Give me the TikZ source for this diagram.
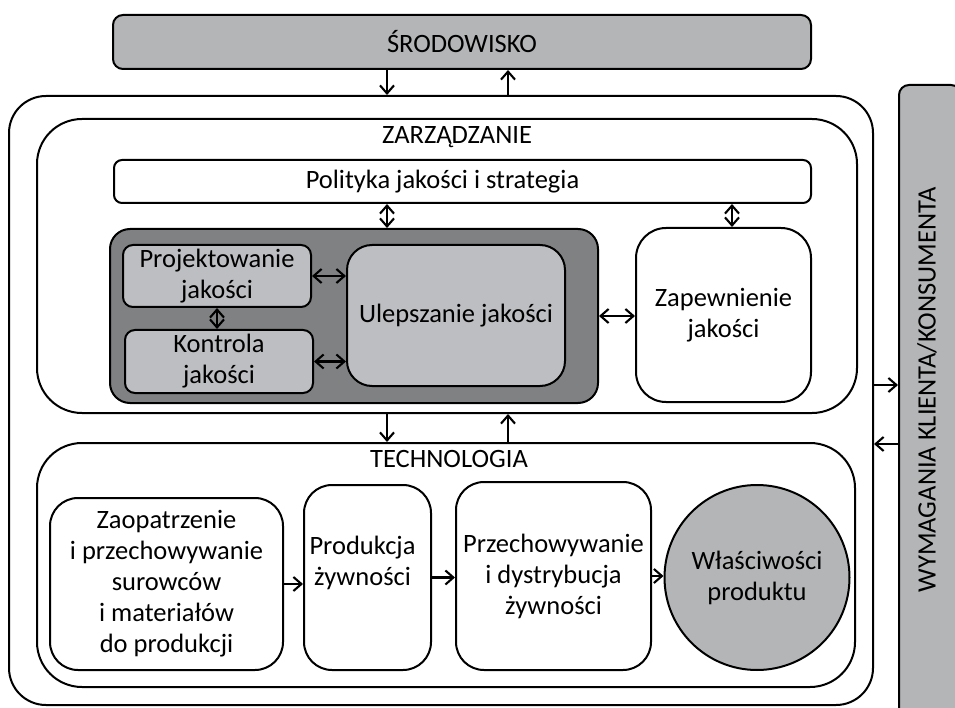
\documentclass[tikz,border=0pt]{standalone}
\usepackage{fontspec}
\setmainfont{Carlito}
\usepackage{tikz}
\usetikzlibrary{positioning, arrows.meta, shapes.geometric}
\definecolor{jasnoszary}{RGB}{179,181,182}
\definecolor{ciemnoszary}{RGB}{128,129,131}
\definecolor{posredni}{RGB}{189,190,193}

\begin{document}
\begin{tikzpicture}[x=1pt, y=-1pt, font=\fontsize{26.5}{31}\selectfont]
      \useasboundingbox (0,0) rectangle (955,708);
      \tikzstyle{blok} = [draw, line width=2pt, align=center, inner sep=0pt, fill=white]
      \tikzstyle{strz} = [line width=2.1pt, -{Straight Barb[length=8pt,width=14pt]}]
      \tikzstyle{strz2} = [line width=2.1pt, {Straight Barb[length=8pt,width=14pt]}-{Straight Barb[length=8pt,width=14pt]}]

      \coordinate (lewa) at (387,0);
      \coordinate (prawa) at (508,0);
      \coordinate (zp) at (732,0);
      \coordinate (w1) at (0,385);
      \coordinate (w2) at (0,444);

      \node[blok, fill=jasnoszary, rounded corners=10pt, minimum width=62pt, minimum height=635pt] (wym) at (930,402.5) {};
      \node[rotate=90] (wymn) at (927,390) {WYMAGANIA KLIENTA/KONSUMENTA};

      \node[blok, rounded corners=37pt, minimum width=864pt, minimum height=609pt] (ram) at (441,400.5) {};
      \node[blok, fill=jasnoszary, rounded corners=10pt, minimum width=698pt, minimum height=54pt] (srod) at (462,42) {ŚRODOWISKO};

      % zarzadzanie
      \node[blok, rounded corners=45pt, minimum width=820pt, minimum height=294pt] (zarz) at (447,266) {};
      \node (zarzn) at (457,137) {ZARZĄDZANIE};
      \node[blok, rounded corners=8pt, minimum width=697pt, minimum height=43pt,
        label={[xshift=-20pt]center:Polityka jakości i strategia}] (polit) at (462.5,181.5) {};
      \node[blok, fill=ciemnoszary, rounded corners=20pt, minimum width=488pt, minimum height=174pt] (ciemny) at (354,316) {};
      \node[blok, fill=posredni, rounded corners=10pt, minimum width=188pt, minimum height=62pt] (proj) at (217,276) {Projektowanie\\jakości};
      \node[blok, fill=posredni, rounded corners=10pt, minimum width=188pt, minimum height=63pt] (kontr) at (219,361.5) {Kontrola\\jakości};
      \node[blok, fill=posredni, rounded corners=25pt, minimum width=218pt, minimum height=141pt] (ulep) at (456,315.5) {Ulepszanie jakości};
      \node[blok, rounded corners=30pt, minimum width=175pt, minimum height=174pt] (zapew) at (723.5,315) {Zapewnienie\\jakości};

      % technologia
      \node[blok, rounded corners=45pt, minimum width=818pt, minimum height=244pt] (tech) at (446,565) {};
      \node (techn) at (449,459) {TECHNOLOGIA};
      \node[blok, rounded corners=28pt, minimum width=233pt, minimum height=172pt] (zaop) at (166.5,584) {Zaopatrzenie\\i przechowywanie\\surowców\\i materiałów\\do produkcji};
      \node[blok, rounded corners=28pt, minimum width=127pt, minimum height=185pt,
        label={[align=center, yshift=15pt, xshift=-5pt]center:Produkcja\\żywności}] (prod) at (367.5,577.5) {};
      \node[blok, rounded corners=28pt, minimum width=195pt, minimum height=188pt] (przech) at (553.5,576) {Przechowywanie\\i dystrybucja\\żywności};
      \node[blok, ellipse, fill=jasnoszary, minimum width=172pt, minimum height=185pt] (wlasc) at (757,577.5) {Właściwości\\produktu};

      \foreach \a/\b in {srod/ram, zarz/tech} {
        \draw[strz] (\a.south -| lewa) -- (\b.north -| lewa);
        \draw[strz] (\b.north -| prawa) -- (\a.south -| prawa);
      }
      \draw[strz2] (polit.south -| lewa) -- (ciemny.north -| lewa);
      \draw[strz2] (polit.south -| zp) -- (zapew.north -| zp);
      \draw[strz2] (proj.east) -- (proj.east -| ulep.west);
      \draw[strz2] (kontr.east) -- (kontr.east -| ulep.west);
      \draw[strz2] (proj.south) -- (proj.south |- kontr.north);
      \draw[strz2] (ciemny.east) -- (ciemny.east -| zapew.west);
      \draw[strz] (zaop.east) -- (zaop.east -| prod.west);
      \draw[strz] (prod.east) -- (prod.east -| przech.west);
      \draw[strz] (przech.east) -- (przech.east -| wlasc.west);
      \draw[strz] (ram.east |- w1) -- (wym.west |- w1);
      \draw[strz] (wym.west |- w2) -- (ram.east |- w2);
    \end{tikzpicture}
\end{document}
